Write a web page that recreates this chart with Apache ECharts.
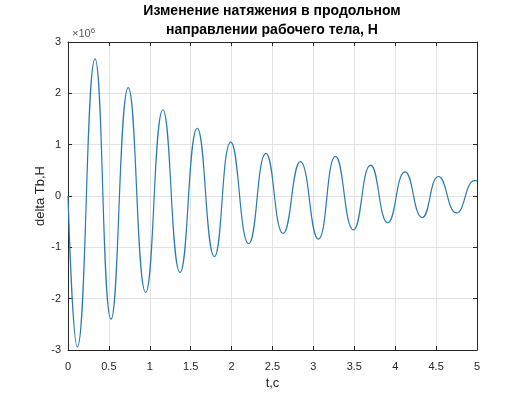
<!DOCTYPE html>
<html><head><meta charset="utf-8">
<script src="https://cdn.jsdelivr.net/npm/echarts@6/dist/echarts.min.js"></script>
<style>html,body{margin:0;padding:0;background:#fff}#c{width:527px;height:395px}</style>
</head><body><div id="c"></div>
<script>
// time, s (start, extrema, end)
var tValues = [0, 0.114, 0.33, 0.526, 0.737, 0.95, 1.16, 1.37, 1.58, 1.79, 1.99, 2.21, 2.42, 2.63, 2.84, 3.06, 3.27, 3.49, 3.70, 3.91, 4.12, 4.33, 4.53, 4.75, 4.97, 5.0];
// delta Tb, in units of 10^6 N
var dValues = [0, -2.94, 2.67, -2.40, 2.11, -1.88, 1.68, -1.49, 1.32, -1.18, 1.05, -0.93, 0.83, -0.73, 0.67, -0.84, 0.77, -0.66, 0.60, -0.52, 0.47, -0.42, 0.38, -0.33, 0.30, 0.295];
var titleLines = ['Изменение натяжения в продольном', 'направлении рабочего тела, Н'];
var xName = 't,c';
var yName = 'delta Tb,H';

var pts = tValues.map(function(t, i){ return [t, dValues[i]]; });
var axisColor = '#262626';
var font = 'Liberation Sans, Arial, sans-serif';
var chart = echarts.init(document.getElementById('c'), null, {renderer:'canvas'});
chart.setOption({
  animation:false,
  backgroundColor:'#ffffff',
  title:{text:titleLines.join('\n'), left:272, top:2, padding:0, textAlign:'center',
    textStyle:{fontFamily:font, fontSize:14, fontWeight:'bold', color:'#000', lineHeight:19}},
  grid:{left:68, right:50, top:42, bottom:45},
  xAxis:[{type:'value', min:0, max:5, interval:0.5, position:'bottom',
    name:xName, nameLocation:'middle', nameGap:27, nameMoveOverlap:false,
    nameTextStyle:{fontFamily:font, fontSize:13, color:axisColor},
    axisLine:{onZero:false, lineStyle:{color:axisColor, width:1}},
    axisTick:{inside:true, length:4, lineStyle:{color:axisColor}},
    axisLabel:{fontFamily:font, fontSize:11, color:axisColor, margin:11},
    splitLine:{show:true, lineStyle:{color:'#e3e3e3', width:1}}},
   {type:'value', min:0, max:5, interval:0.5, position:'top',
    axisLine:{onZero:false, lineStyle:{color:axisColor, width:1}},
    axisTick:{inside:true, length:4, lineStyle:{color:axisColor}},
    axisLabel:{show:false}, splitLine:{show:false}}],
  yAxis:[{type:'value', min:-3, max:3, interval:1, position:'left',
    name:yName, nameLocation:'middle', nameGap:21, nameRotate:90, nameMoveOverlap:false,
    nameTextStyle:{fontFamily:font, fontSize:13, color:axisColor},
    axisLine:{onZero:false, lineStyle:{color:axisColor, width:1}},
    axisTick:{inside:true, length:4, lineStyle:{color:axisColor}},
    axisLabel:{fontFamily:font, fontSize:11, color:axisColor, margin:7},
    splitLine:{show:true, lineStyle:{color:'#e3e3e3', width:1}}},
   {type:'value', min:-3, max:3, interval:1, position:'right',
    axisLine:{onZero:false, lineStyle:{color:axisColor, width:1}},
    axisTick:{inside:true, length:4, lineStyle:{color:axisColor}},
    axisLabel:{show:false}, splitLine:{show:false}}],
  graphic:[{type:'text', left:72, top:27,
    style:{text:'{a|×10}{b|6}', rich:{a:{fontFamily:font, fontSize:11, fill:'#555'}, b:{fontFamily:font, fontSize:8, fill:'#555', verticalAlign:'top', padding:[0,0,6,0]}}}}],
  series:[{type:'line', data:pts, xAxisIndex:0, yAxisIndex:0, showSymbol:false, symbol:'none',
    smooth:0.5, lineStyle:{color:'#2b7bb0', width:1.2}}]
});
</script></body></html>
